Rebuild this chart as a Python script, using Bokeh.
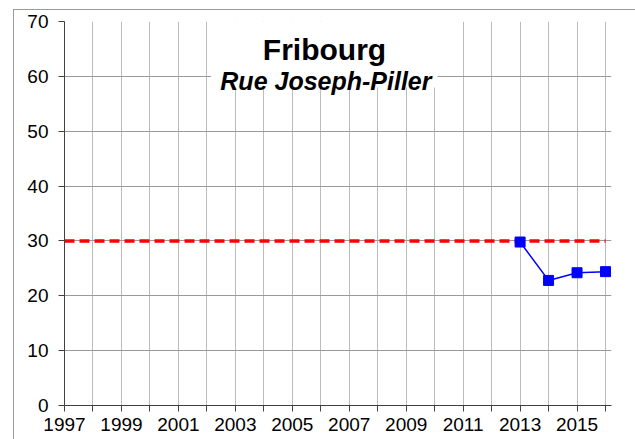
from bokeh.plotting import figure
from bokeh.models import Range1d, FixedTicker, BoxAnnotation, Label, InlineStyleSheet
from bokeh.embed import file_html
from bokeh.resources import INLINE

# ---- data ----
years_axis = list(range(1997, 2017))
tick_labels = ["1997", "1999", "2001", "2003", "2005", "2007", "2009",
               "2011", "2013", "2015"]
y_ticks = [0, 10, 20, 30, 40, 50, 60, 70]
meas_years = [2013, 2014, 2015, 2016]
meas_values = [29.8, 22.8, 24.2, 24.4]
limit_value = 30
title_main = "Fribourg"
title_sub = "Rue Joseph-Piller"

FONT = "Liberation Sans"

p = figure(width=635, height=439, output_backend="svg", toolbar_location=None,
           x_range=Range1d(years_axis[0], years_axis[-1] + 0.21),
           y_range=Range1d(y_ticks[0], y_ticks[-1]),
           min_border_left=64, min_border_right=24,
           min_border_top=21, min_border_bottom=34)
p.outline_line_color = None
p.background_fill_color = "white"
p.border_fill_color = "white"

# outer chart border (top and left edges visible)
p.stylesheets = [InlineStyleSheet(css="""
:host { position: relative; }
:host::after {
  content: ""; position: absolute; left: 13px; top: 9px; right: 0px; bottom: 0px;
  border-top: 1.5px solid #9a9a9a; border-left: 1.5px solid #9a9a9a;
  pointer-events: none;
}
""")]

# x axis
p.xaxis.ticker = FixedTicker(ticks=years_axis)
p.xaxis.major_label_overrides = {y: (str(y) if str(y) in tick_labels else "")
                                 for y in years_axis}
p.xaxis.major_tick_out = 6
p.xaxis.major_tick_in = 0
p.xaxis.minor_tick_out = 0
p.xaxis.minor_tick_in = 0
p.xaxis.major_label_standoff = 6
p.xaxis.axis_line_color = "#404040"
p.xaxis.major_tick_line_color = "#404040"
p.xaxis.major_label_text_font = FONT
p.xaxis.major_label_text_font_size = "19px"
p.xaxis.major_label_text_color = "#000000"

# y axis
p.yaxis.ticker = FixedTicker(ticks=y_ticks)
p.yaxis.major_tick_out = 6
p.yaxis.major_tick_in = 0
p.yaxis.minor_tick_out = 0
p.yaxis.minor_tick_in = 0
p.yaxis.major_label_standoff = 10
p.yaxis.axis_line_color = "#404040"
p.yaxis.major_tick_line_color = "#404040"
p.yaxis.major_label_text_font = FONT
p.yaxis.major_label_text_font_size = "19px"
p.yaxis.major_label_text_color = "#000000"

# grids
p.xgrid.grid_line_color = "#bcbcbc"
p.xgrid.grid_line_width = 1
p.ygrid.grid_line_color = "#999999"
p.ygrid.grid_line_width = 1.2

# limit line
p.line(x=[years_axis[0], years_axis[-1]], y=[limit_value, limit_value],
       line_color="#ff0000", line_width=3.5, line_dash="10 5")

# measurements
p.line(x=meas_years, y=meas_values, line_color="#0000ff", line_width=1.5)
p.scatter(x=meas_years, y=meas_values, marker="square", size=10,
          fill_color="#0000ff", line_color="#0000ff")

# title box
box = BoxAnnotation(left=2002.15, right=2010.1, bottom=57.97, top=70,
                    fill_color="white", fill_alpha=1, line_color=None)
p.add_layout(box)

p.add_layout(Label(x=2006.13, y=64.9, text=title_main, text_align="center",
                   text_baseline="alphabetic", text_font=FONT,
                   text_font_style="bold", text_font_size="30px",
                   text_color="#000000"))
p.add_layout(Label(x=2006.18, y=59.1, text=title_sub, text_align="center",
                   text_baseline="alphabetic", text_font=FONT,
                   text_font_style="bold italic", text_font_size="25px",
                   text_color="#000000"))

open("out.html", "w").write(file_html(p, INLINE))
